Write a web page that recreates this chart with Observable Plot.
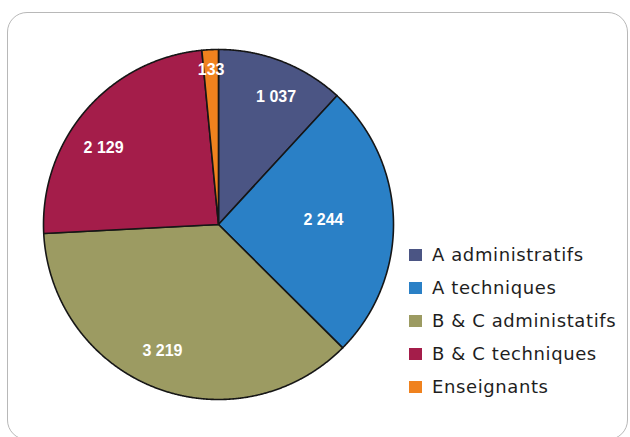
<!DOCTYPE html>
<html><head><meta charset="utf-8">
<script src="https://cdn.jsdelivr.net/npm/d3@7"></script>
<script src="https://cdn.jsdelivr.net/npm/@observablehq/plot@0.6"></script>
<style>
body{margin:0;background:#fff;}
#wrap{position:relative;width:630px;height:437px;overflow:hidden;background:#fff;}
#frame{position:absolute;left:7px;top:12px;width:621px;height:428px;border:1px solid #b8b8b8;border-radius:20px;box-sizing:border-box;}
#chart{position:absolute;left:0;top:0;}
#legend{position:absolute;left:409px;top:238px;font-family:"DejaVu Sans",sans-serif;font-size:18px;letter-spacing:0.6px;color:#1e1e1e;}
.row{display:flex;align-items:center;height:33px;white-space:nowrap;}
.sw{width:13px;height:12px;margin-right:10px;flex:none;}
</style></head><body>
<div id="wrap"><div id="frame"></div><div id="chart"></div><div id="legend"></div></div>
<script>
const categories = ["A administratifs", "A techniques", "B & C administatifs", "B & C techniques", "Enseignants"];
const values = [1037, 2244, 3219, 2129, 133];
const valueLabels = ["1 037", "2 244", "3 219", "2 129", "133"];
const colors = ["#4b5584", "#2a80c6", "#9c9b62", "#a41d4a", "#f0821e"];

// label placement tweaks (angle shift in degrees, radius fraction)
const labelShift = [3, -1, 3, -7, 0];
const labelRadius = [0.80, 0.6, 0.79, 0.79, 0.885];

const pie = d3.pie().sort(null).value(d => d)(values);

const polys = [];
pie.forEach((p, i) => {
  const cat = categories[i];
  polys.push({cat, x: 0, y: 0});
  const n = Math.max(2, Math.ceil((p.endAngle - p.startAngle) / (Math.PI / 720)));
  for (let k = 0; k <= n; k++) {
    const a = p.startAngle + (p.endAngle - p.startAngle) * k / n;
    polys.push({cat, x: Math.sin(a), y: Math.cos(a)});
  }
});

const labelData = pie.map((p, i) => {
  const a = (p.startAngle + p.endAngle) / 2 + labelShift[i] * Math.PI / 180;
  return {label: valueLabels[i], x: labelRadius[i] * Math.sin(a), y: labelRadius[i] * Math.cos(a)};
});

const cx = 218, cy = 224, R = 175;
const chart = Plot.plot({
  width: 630,
  height: 437,
  margin: 0,
  x: {domain: [-1, 1], range: [cx - R, cx + R], axis: null},
  y: {domain: [-1, 1], range: [cy + R, cy - R], axis: null},
  color: {domain: categories, range: colors},
  style: {background: "transparent"},
  marks: [
    Plot.line(polys, {x: "x", y: "y", z: "cat", fill: "cat", stroke: "#161616", strokeWidth: 1.6, curve: "linear-closed", strokeLinejoin: "round"}),
    Plot.text(labelData, {x: "x", y: "y", text: "label", fill: "white", fontSize: 16, fontWeight: "bold", fontFamily: "Liberation Sans, Arial, sans-serif"})
  ]
});
document.getElementById("chart").appendChild(chart);

const legend = document.getElementById("legend");
categories.forEach((c, i) => {
  const row = document.createElement("div");
  row.className = "row";
  const sw = document.createElement("span");
  sw.className = "sw";
  sw.style.background = colors[i];
  const t = document.createElement("span");
  t.textContent = c;
  row.appendChild(sw); row.appendChild(t);
  legend.appendChild(row);
});
</script>
</body></html>
